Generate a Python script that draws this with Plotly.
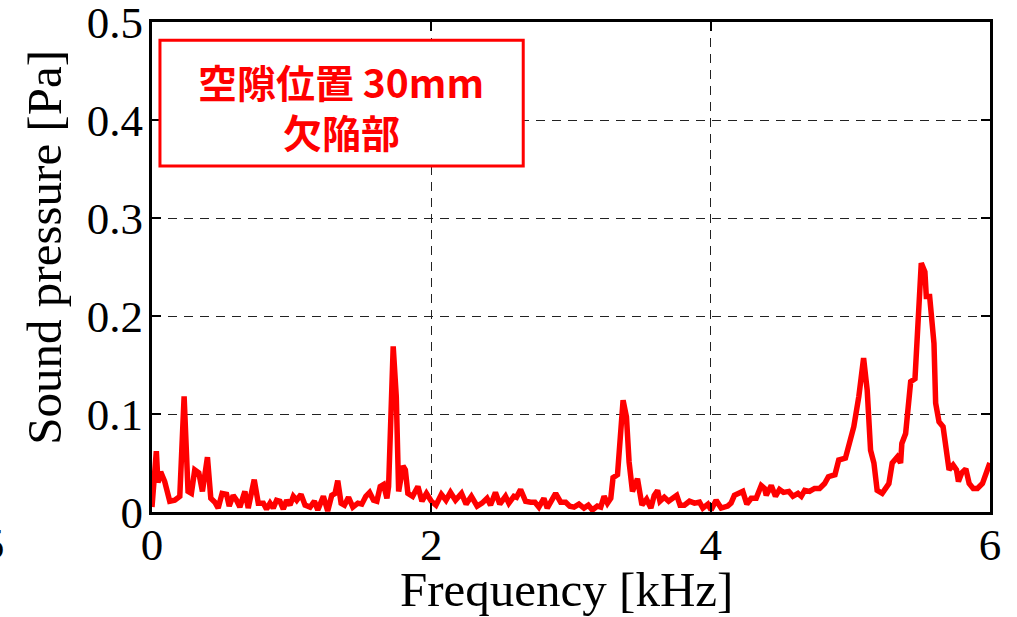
import plotly.graph_objects as go

# Frequency [kHz] and sound pressure [Pa]
freq_khz = [
    0.000, 0.031, 0.043, 0.062, 0.091, 0.127, 0.163, 0.199, 0.230, 0.258, 0.282, 0.306, 0.335, 0.361,
    0.397, 0.421, 0.450, 0.474, 0.502, 0.534, 0.553, 0.581, 0.605, 0.629, 0.665, 0.689, 0.732, 0.761,
    0.797, 0.820, 0.845, 0.868, 0.892, 0.916, 0.940, 0.964, 0.988,
    1.012, 1.036, 1.067, 1.096, 1.132, 1.163, 1.187, 1.227, 1.258, 1.287, 1.311, 1.330, 1.354, 1.378,
    1.407, 1.438, 1.474, 1.502, 1.531, 1.558, 1.586, 1.610, 1.634, 1.658, 1.682, 1.694, 1.727, 1.749,
    1.766, 1.797, 1.814, 1.832, 1.866, 1.904, 1.933, 1.965, 2.000,
    2.033, 2.072, 2.105, 2.137, 2.173, 2.216, 2.249, 2.287, 2.328, 2.363, 2.399, 2.424, 2.459, 2.490,
    2.531, 2.555, 2.591, 2.610, 2.639, 2.675, 2.711, 2.742, 2.770, 2.806, 2.830, 2.862, 2.890, 2.926,
    2.962, 2.991,
    3.022, 3.057, 3.093, 3.124, 3.153, 3.189, 3.213, 3.237, 3.261, 3.285, 3.301, 3.333, 3.373, 3.397,
    3.416, 3.440, 3.476, 3.508, 3.541, 3.572, 3.596, 3.620, 3.637, 3.668, 3.699, 3.728, 3.757, 3.781,
    3.812, 3.848, 3.884, 3.920, 3.944, 3.980,
    4.003, 4.039, 4.075, 4.122, 4.146, 4.170, 4.206, 4.230, 4.259, 4.290, 4.326, 4.362, 4.386, 4.398,
    4.434, 4.464, 4.493, 4.522, 4.560, 4.589, 4.625, 4.649, 4.673, 4.708, 4.744, 4.780, 4.816, 4.843,
    4.890, 4.917, 4.965, 5.025, 5.061, 5.095,
    5.121, 5.145, 5.169, 5.192, 5.228, 5.252, 5.276, 5.300, 5.336, 5.360, 5.369, 5.396, 5.432, 5.463,
    5.492, 5.508, 5.534, 5.544, 5.568, 5.599, 5.611, 5.635, 5.664, 5.683, 5.707, 5.736, 5.760, 5.774,
    5.798, 5.827, 5.851, 5.880, 5.910, 5.946, 5.975, 5.999,
]
pressure_pa = [
    0.005, 0.062, 0.030, 0.041, 0.031, 0.011, 0.012, 0.016, 0.118, 0.021, 0.019, 0.043, 0.040, 0.021,
    0.056, 0.014, 0.010, 0.004, 0.019, 0.018, 0.006, 0.017, 0.012, 0.005, 0.021, 0.004, 0.033, 0.009,
    0.009, 0.003, 0.009, 0.004, 0.012, 0.011, 0.003, 0.012, 0.007,
    0.016, 0.012, 0.018, 0.007, 0.005, 0.011, 0.002, 0.016, 0.001, 0.017, 0.019, 0.032, 0.009, 0.007,
    0.015, 0.005, 0.009, 0.008, 0.016, 0.020, 0.012, 0.011, 0.026, 0.028, 0.014, 0.026, 0.169, 0.118,
    0.021, 0.047, 0.043, 0.019, 0.016, 0.026, 0.011, 0.019, 0.011,
    0.007, 0.018, 0.012, 0.020, 0.012, 0.019, 0.008, 0.016, 0.006, 0.009, 0.014, 0.007, 0.020, 0.008,
    0.016, 0.009, 0.016, 0.015, 0.023, 0.011, 0.010, 0.010, 0.005, 0.014, 0.004, 0.013, 0.019, 0.010,
    0.010, 0.006,
    0.005, 0.008, 0.004, 0.007, 0.002, 0.006, 0.005, 0.016, 0.009, 0.014, 0.035, 0.038, 0.114, 0.097,
    0.051, 0.021, 0.034, 0.007, 0.013, 0.004, 0.017, 0.022, 0.011, 0.015, 0.011, 0.014, 0.017, 0.007,
    0.007, 0.011, 0.009, 0.010, 0.004, 0.008,
    0.002, 0.012, 0.004, 0.006, 0.009, 0.017, 0.019, 0.021, 0.008, 0.014, 0.014, 0.027, 0.024, 0.017,
    0.027, 0.016, 0.023, 0.020, 0.021, 0.016, 0.019, 0.016, 0.022, 0.021, 0.024, 0.024, 0.029, 0.036,
    0.038, 0.053, 0.055, 0.087, 0.118, 0.157,
    0.124, 0.063, 0.050, 0.022, 0.019, 0.024, 0.029, 0.050, 0.056, 0.050, 0.070, 0.080, 0.133, 0.136,
    0.206, 0.254, 0.245, 0.220, 0.220, 0.172, 0.111, 0.092, 0.087, 0.063, 0.043, 0.048, 0.043, 0.031,
    0.040, 0.044, 0.029, 0.024, 0.024, 0.029, 0.041, 0.050,
]

x_tickvals = [0, 2, 4, 6]
x_ticktext = ["0", "2", "4", "6"]
y_tickvals = [0, 0.1, 0.2, 0.3, 0.4, 0.5]
y_ticktext = ["0", "0.1", "0.2", "0.3", "0.4", "0.5"]

legend_line1 = "空隙位置 30mm"
legend_line2 = "欠陥部"
x_title = "Frequency [kHz]"
y_title = "Sound pressure [Pa]"

SERIF = "Liberation Serif, Times New Roman, serif"
RED = "#ff0000"

fig = go.Figure()
fig.add_trace(go.Scatter(
    x=freq_khz, y=pressure_pa, mode="lines",
    line=dict(color=RED, width=5.5), showlegend=False, hoverinfo="skip",
))

axis_common = dict(
    ticks="inside", ticklen=9, tickwidth=1.5, tickcolor="black",
    showline=True, linecolor="black", linewidth=3, mirror="ticks",
    showgrid=True, gridcolor="#222222", gridwidth=1, griddash="9px,7px",
    zeroline=False, tickfont=dict(family=SERIF, size=45, color="black"),
    ticklabeloverflow="allow", automargin=False,
)
fig.update_xaxes(range=[0, 6.0001], tickvals=x_tickvals, ticktext=x_ticktext,
                 ticklabelstandoff=-9, **axis_common)
fig.update_yaxes(range=[0, 0.50001], tickvals=y_tickvals, ticktext=y_ticktext,
                 ticklabelstandoff=-3, **axis_common)

fig.update_layout(
    width=1017, height=617,
    margin=dict(l=152, r=27, t=22, b=105),
    paper_bgcolor="white", plot_bgcolor="white",
    shapes=[dict(
        type="rect", xref="paper", yref="paper",
        x0=0.0095, x1=0.443, y0=0.706, y1=0.963,
        line=dict(color=RED, width=3), fillcolor="white", layer="above",
    )],
    annotations=[
        dict(text=legend_line1, xref="paper", yref="paper", x=0.226, y=0.879,
             showarrow=False, xanchor="center", yanchor="middle",
             font=dict(family="Noto Sans CJK JP", size=39, color=RED, weight="bold")),
        dict(text=legend_line2, xref="paper", yref="paper", x=0.226, y=0.777,
             showarrow=False, xanchor="center", yanchor="middle",
             font=dict(family="Noto Sans CJK JP", size=39, color=RED, weight="bold")),
        dict(text=x_title, xref="paper", yref="paper", x=0.495, y=-0.159,
             showarrow=False, xanchor="center", yanchor="middle",
             font=dict(family=SERIF, size=49, color="black")),
        dict(text=y_title, xref="paper", yref="paper", x=-0.128, y=0.541,
             showarrow=False, xanchor="center", yanchor="middle", textangle=-90,
             font=dict(family=SERIF, size=49, color="black")),
        dict(text="5", xref="paper", yref="paper", x=-0.189, y=-0.066,
             showarrow=False, xanchor="center", yanchor="middle",
             font=dict(family=SERIF, size=45, color="black")),
    ],
)

fig.write_html("out.html")
